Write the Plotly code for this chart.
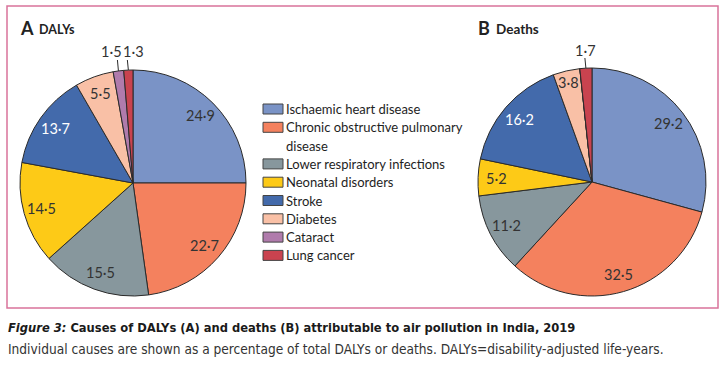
import math
import plotly.graph_objects as go

# ---------------- data ----------------
categories = ["Ischaemic heart disease", "Chronic obstructive pulmonary disease",
              "Lower respiratory infections", "Neonatal disorders", "Stroke",
              "Diabetes", "Cataract", "Lung cancer"]
legend_labels = ["Ischaemic heart disease", "Chronic obstructive pulmonary<br>disease",
                 "Lower respiratory infections", "Neonatal disorders", "Stroke",
                 "Diabetes", "Cataract", "Lung cancer"]
dalys_pct = [24.9, 22.7, 15.5, 14.5, 13.7, 5.5, 1.5, 1.3]
deaths_pct = [29.2, 32.5, 11.2, 5.2, 16.2, 3.8, 0.0, 1.7]

# ---------------- style ----------------
colors = ["#7a93c6", "#f4815e", "#87979d", "#fdca17", "#436aab",
          "#f9c0a6", "#b07bac", "#c9434f"]
label_colors = ["#333333", "#333333", "#333333", "#333333", "#ffffff",
                "#333333", "#333333", "#333333"]
W, H = 727, 365
FONT = "Lato, Open Sans, sans-serif"
CAP_FONT = "Liberation Sans Narrow, DejaVu Sans Condensed, Lato, sans-serif"
BORDER = "#d9739b"

pies = [
    dict(name="DALYs", letter="A", values=dalys_pct, cx=133, cy=183, r=113,
         title_x=18, sub_x=37, sub_size=12.5,
         outside_dx={"Cataract": -7, "Lung cancer": 5}),
    dict(name="Deaths", letter="B", values=deaths_pct, cx=592, cy=182, r=114,
         title_x=476, sub_x=494, sub_size=13.5,
         outside_dx={"Lung cancer": 0}),
]


def fx(x):
    return x / W


def fy(y):
    return 1 - y / H


def fmt(v):
    return f"{v:.1f}".replace(".", "\u00b7")


fig = go.Figure()
annotations = []
shapes = []

for p in pies:
    fig.add_trace(go.Pie(
        labels=categories, values=p["values"], sort=False, direction="clockwise",
        rotation=0, marker=dict(colors=colors, line=dict(color="#2b2b2b", width=1)),
        textinfo="none", hoverinfo="skip", showlegend=False,
        domain=dict(x=[fx(p["cx"] - p["r"]), fx(p["cx"] + p["r"])],
                    y=[fy(p["cy"] + p["r"]), fy(p["cy"] - p["r"])]),
    ))
    total = sum(p["values"])
    cum = 0.0
    for cat, v, tc in zip(categories, p["values"], label_colors):
        if v <= 0:
            continue
        theta = 2 * math.pi * (cum + v / 2) / total
        cum += v
        sx, sy = math.sin(theta), -math.cos(theta)
        if v / total >= 0.03:
            rr = 0.84 * p["r"] if v / total > 0.045 else 0.9 * p["r"]
            annotations.append(dict(
                x=fx(p["cx"] + rr * sx), y=fy(p["cy"] + rr * sy), xref="paper", yref="paper",
                text=fmt(v), showarrow=False, xanchor="center", yanchor="middle",
                font=dict(family=FONT, size=14.5, color=tc)))
        else:
            ex, ey = p["cx"] + p["r"] * sx, p["cy"] + p["r"] * sy
            top = p["cy"] - p["r"] - 10
            shapes.append(dict(type="line", xref="paper", yref="paper",
                               x0=fx(ex), y0=fy(ey), x1=fx(ex - 1), y1=fy(top),
                               line=dict(color="#2b2b2b", width=1)))
            annotations.append(dict(
                x=fx(ex + p["outside_dx"].get(cat, 0)), y=fy(top - 8), xref="paper", yref="paper",
                text=fmt(v), showarrow=False, xanchor="center", yanchor="middle",
                font=dict(family=FONT, size=14.5, color="#333333")))
    # panel titles
    annotations.append(dict(x=fx(p["title_x"]), y=fy(28), xref="paper", yref="paper",
                            text="<b>" + p["letter"] + "</b>", showarrow=False,
                            xanchor="left", yanchor="middle",
                            font=dict(family=FONT, size=18, color="#222222")))
    annotations.append(dict(x=fx(p["sub_x"]), y=fy(29), xref="paper", yref="paper",
                            text="<b>" + p["name"] + "</b>", showarrow=False,
                            xanchor="left", yanchor="middle",
                            font=dict(family=FONT, size=p["sub_size"], color="#222222")))

# custom legend
row = 0
row_h = 18.3
y0 = 109
for lab, col in zip(legend_labels, colors):
    yc = y0 + row * row_h
    shapes.append(dict(type="rect", xref="paper", yref="paper",
                       x0=fx(263), x1=fx(283), y0=fy(yc - 5), y1=fy(yc + 5),
                       fillcolor=col, line=dict(color="#444444", width=1)))
    for line in lab.split("<br>"):
        annotations.append(dict(x=fx(284), y=fy(y0 + row * row_h), xref="paper", yref="paper",
                                text=line, showarrow=False, xanchor="left", yanchor="middle",
                                font=dict(family=FONT, size=13, color="#1e1e1e")))
        row += 1

# border
shapes.append(dict(type="rect", xref="paper", yref="paper", x0=fx(7), x1=fx(718),
                   y0=fy(308), y1=fy(6), line=dict(color=BORDER, width=1.5)))

# caption
annotations.append(dict(x=fx(6), y=fy(327), xref="paper", yref="paper", showarrow=False,
                        xanchor="left", yanchor="middle",
                        text="<b><i>Figure 3:</i> Causes of DALYs (A) and deaths (B) attributable to air pollution in India, 2019</b>",
                        font=dict(family=CAP_FONT, size=12.8, color="#1a1a1a")))
annotations.append(dict(x=fx(6), y=fy(349), xref="paper", yref="paper", showarrow=False,
                        xanchor="left", yanchor="middle",
                        text="Individual causes are shown as a percentage of total DALYs or deaths. DALYs=disability-adjusted life-years.",
                        font=dict(family=CAP_FONT, size=13.6, color="#333333")))

fig.update_layout(width=W, height=H, margin=dict(l=0, r=0, t=0, b=0),
                  paper_bgcolor="white", plot_bgcolor="white",
                  annotations=annotations, shapes=shapes, showlegend=False)
fig.write_html("out.html", config={"displayModeBar": False},
               post_script="document.body.style.margin='0';document.body.style.padding='0';")
